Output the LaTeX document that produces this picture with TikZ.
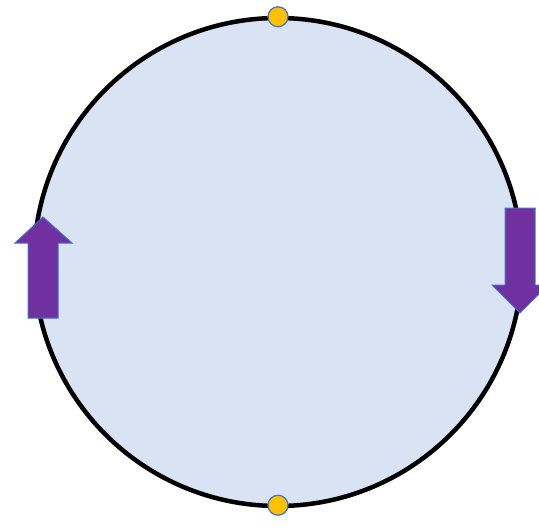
\documentclass[tikz,border=0pt]{standalone}
\definecolor{fillblue}{RGB}{218,227,243}
\definecolor{arrowpurple}{RGB}{112,48,160}
\definecolor{edgeblue}{RGB}{68,114,196}
\definecolor{dotyellow}{RGB}{255,192,0}
\tikzset{
  ring/.style={draw=black,line width=4.5pt,fill=fillblue},
  bigarrow/.style={fill=arrowpurple,draw=edgeblue,line width=1pt,line join=miter},
  dot/.style={circle,fill=dotyellow,draw=edgeblue,line width=1.2pt,minimum size=20pt,inner sep=0pt}
}
\begin{document}
\begin{tikzpicture}[x=1pt,y=-1pt]
\useasboundingbox (0,0) rectangle (539,528);
\begin{scope}
\clip (0,0) rectangle (539,528);
\node[ring,circle,minimum size=488pt,inner sep=0pt] (c) at (278,262) {};
% left arrow (up)
\draw[bigarrow] (28,318) -- (28,243) -- (15,243) -- (43,217) -- (72,243) -- (58,243) -- (58,318) -- cycle;
% right arrow (down)
\draw[bigarrow] (505,208) -- (535,208) -- (535,285) -- (548,285) -- (520,313) -- (492,285) -- (505,285) -- cycle;
\node[dot] (top) at ([yshift=-1pt]c.north) {};
\node[dot] (bottom) at ([yshift=3pt]c.south) {};
\end{scope}
\end{tikzpicture}
\end{document}
